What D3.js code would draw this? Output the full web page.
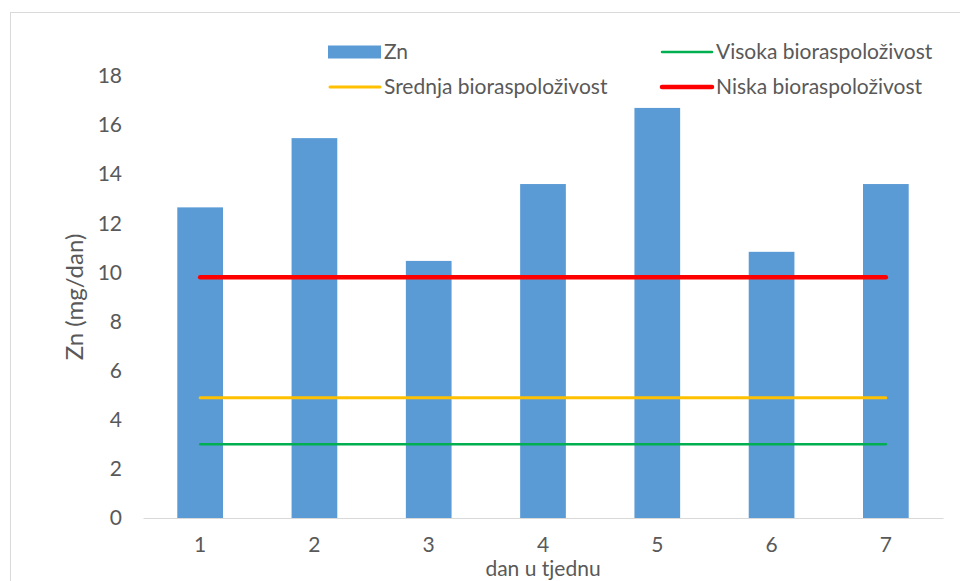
<!DOCTYPE html>
<html>
<head>
<meta charset="utf-8">
<script src="https://cdn.jsdelivr.net/npm/d3@7"></script>
<style>
  body { margin: 0; background: #fff; }
  text { font-family: Lato, "Open Sans", sans-serif; fill: #595959; }
</style>
</head>
<body>
<div id="chart"></div>
<script>
var days = ['1', '2', '3', '4', '5', '6', '7'];
var zn = [12.65, 15.47, 10.47, 13.6, 16.7, 10.84, 13.6];
var visoka = [3.0, 3.0, 3.0, 3.0, 3.0, 3.0, 3.0];
var srednja = [4.9, 4.9, 4.9, 4.9, 4.9, 4.9, 4.9];
var niska = [9.8, 9.8, 9.8, 9.8, 9.8, 9.8, 9.8];
var yTicks = [0, 2, 4, 6, 8, 10, 12, 14, 16, 18];

var width = 960, height = 581;
var margin = {top: 76, right: 17, bottom: 63, left: 143};

var svg = d3.select("#chart")
  .append("svg")
  .attr("width", width)
  .attr("height", height);

// chart frame (runs off the right and bottom edge)
svg.append("rect")
  .attr("x", 10.5).attr("y", 12.5)
  .attr("width", 980).attr("height", 600)
  .attr("fill", "none")
  .attr("stroke", "#d9d9d9");

var x = d3.scaleBand()
  .domain(days)
  .range([margin.left, width - margin.right])
  .paddingInner(0.6)
  .paddingOuter(0.3);

var y = d3.scaleLinear()
  .domain([0, 18])
  .range([height - margin.bottom, margin.top]);

// y axis labels
var yAxis = svg.append("g")
  .attr("transform", "translate(" + margin.left + ",0)")
  .call(d3.axisLeft(y).tickValues(yTicks).tickSize(0).tickPadding(21));
yAxis.select(".domain").remove();
yAxis.selectAll("text")
  .style("font-size", "21px")
  .attr("fill", "#595959")
  .style("font-family", "Lato, sans-serif");

// bars
svg.selectAll(".bar")
  .data(zn)
  .enter()
  .append("rect")
  .attr("class", "bar")
  .attr("x", function(d, i) { return x(days[i]); })
  .attr("y", function(d) { return y(d); })
  .attr("width", x.bandwidth())
  .attr("height", function(d) { return y(0) - y(d); })
  .attr("fill", "#5b9bd5");

// x axis
var xAxis = svg.append("g")
  .attr("transform", "translate(0," + y(0) + ")")
  .call(d3.axisBottom(x).tickSize(0).tickPadding(19));
xAxis.select(".domain").attr("stroke", "#d9d9d9").attr("stroke-width", 1.2);
xAxis.selectAll("text")
  .style("font-size", "21px")
  .attr("fill", "#595959")
  .style("font-family", "Lato, sans-serif");

// reference lines
var series = [
  {name: 'Visoka bioraspoloživost', values: visoka, color: '#00b050', w: 2.5},
  {name: 'Srednja bioraspoloživost', values: srednja, color: '#ffc000', w: 3},
  {name: 'Niska bioraspoloživost', values: niska, color: '#ff0000', w: 4.5}
];

var line = d3.line()
  .x(function(d, i) { return x(days[i]) + x.bandwidth() / 2; })
  .y(function(d) { return y(d); });

series.forEach(function(s) {
  svg.append("path")
    .datum(s.values)
    .attr("d", line)
    .attr("fill", "none")
    .attr("stroke", s.color)
    .attr("stroke-width", s.w)
    .attr("stroke-linecap", "round");
});

// axis titles
svg.append("text")
  .attr("transform", "translate(83," + ((y(0) + y(18)) / 2) + ") rotate(-90)")
  .attr("text-anchor", "middle")
  .style("font-size", "24px")
  .text("Zn (mg/dan)");

svg.append("text")
  .attr("x", (margin.left + width - margin.right) / 2)
  .attr("y", 576)
  .attr("text-anchor", "middle")
  .style("font-size", "21px")
  .text("dan u tjednu");

// legend
var legend = [
  {name: 'Zn', type: 'bar', color: '#5b9bd5', x: 328, y: 52},
  {name: series[0].name, type: 'line', color: series[0].color, w: series[0].w, x: 660, y: 52},
  {name: series[1].name, type: 'line', color: series[1].color, w: series[1].w, x: 328, y: 87},
  {name: series[2].name, type: 'line', color: series[2].color, w: series[2].w, x: 660, y: 87}
];

legend.forEach(function(l) {
  if (l.type == 'bar') {
    svg.append("rect")
      .attr("x", l.x).attr("y", l.y - 6.5)
      .attr("width", 53).attr("height", 13)
      .attr("fill", l.color);
  } else {
    svg.append("line")
      .attr("x1", l.x + 2).attr("x2", l.x + 52)
      .attr("y1", l.y).attr("y2", l.y)
      .attr("stroke", l.color)
      .attr("stroke-width", l.w)
      .attr("stroke-linecap", "round");
  }
  svg.append("text")
    .attr("x", l.x + 56)
    .attr("y", l.y)
    .attr("dy", "0.35em")
    .style("font-size", "21px")
    .text(l.name);
});
</script>
</body>
</html>
